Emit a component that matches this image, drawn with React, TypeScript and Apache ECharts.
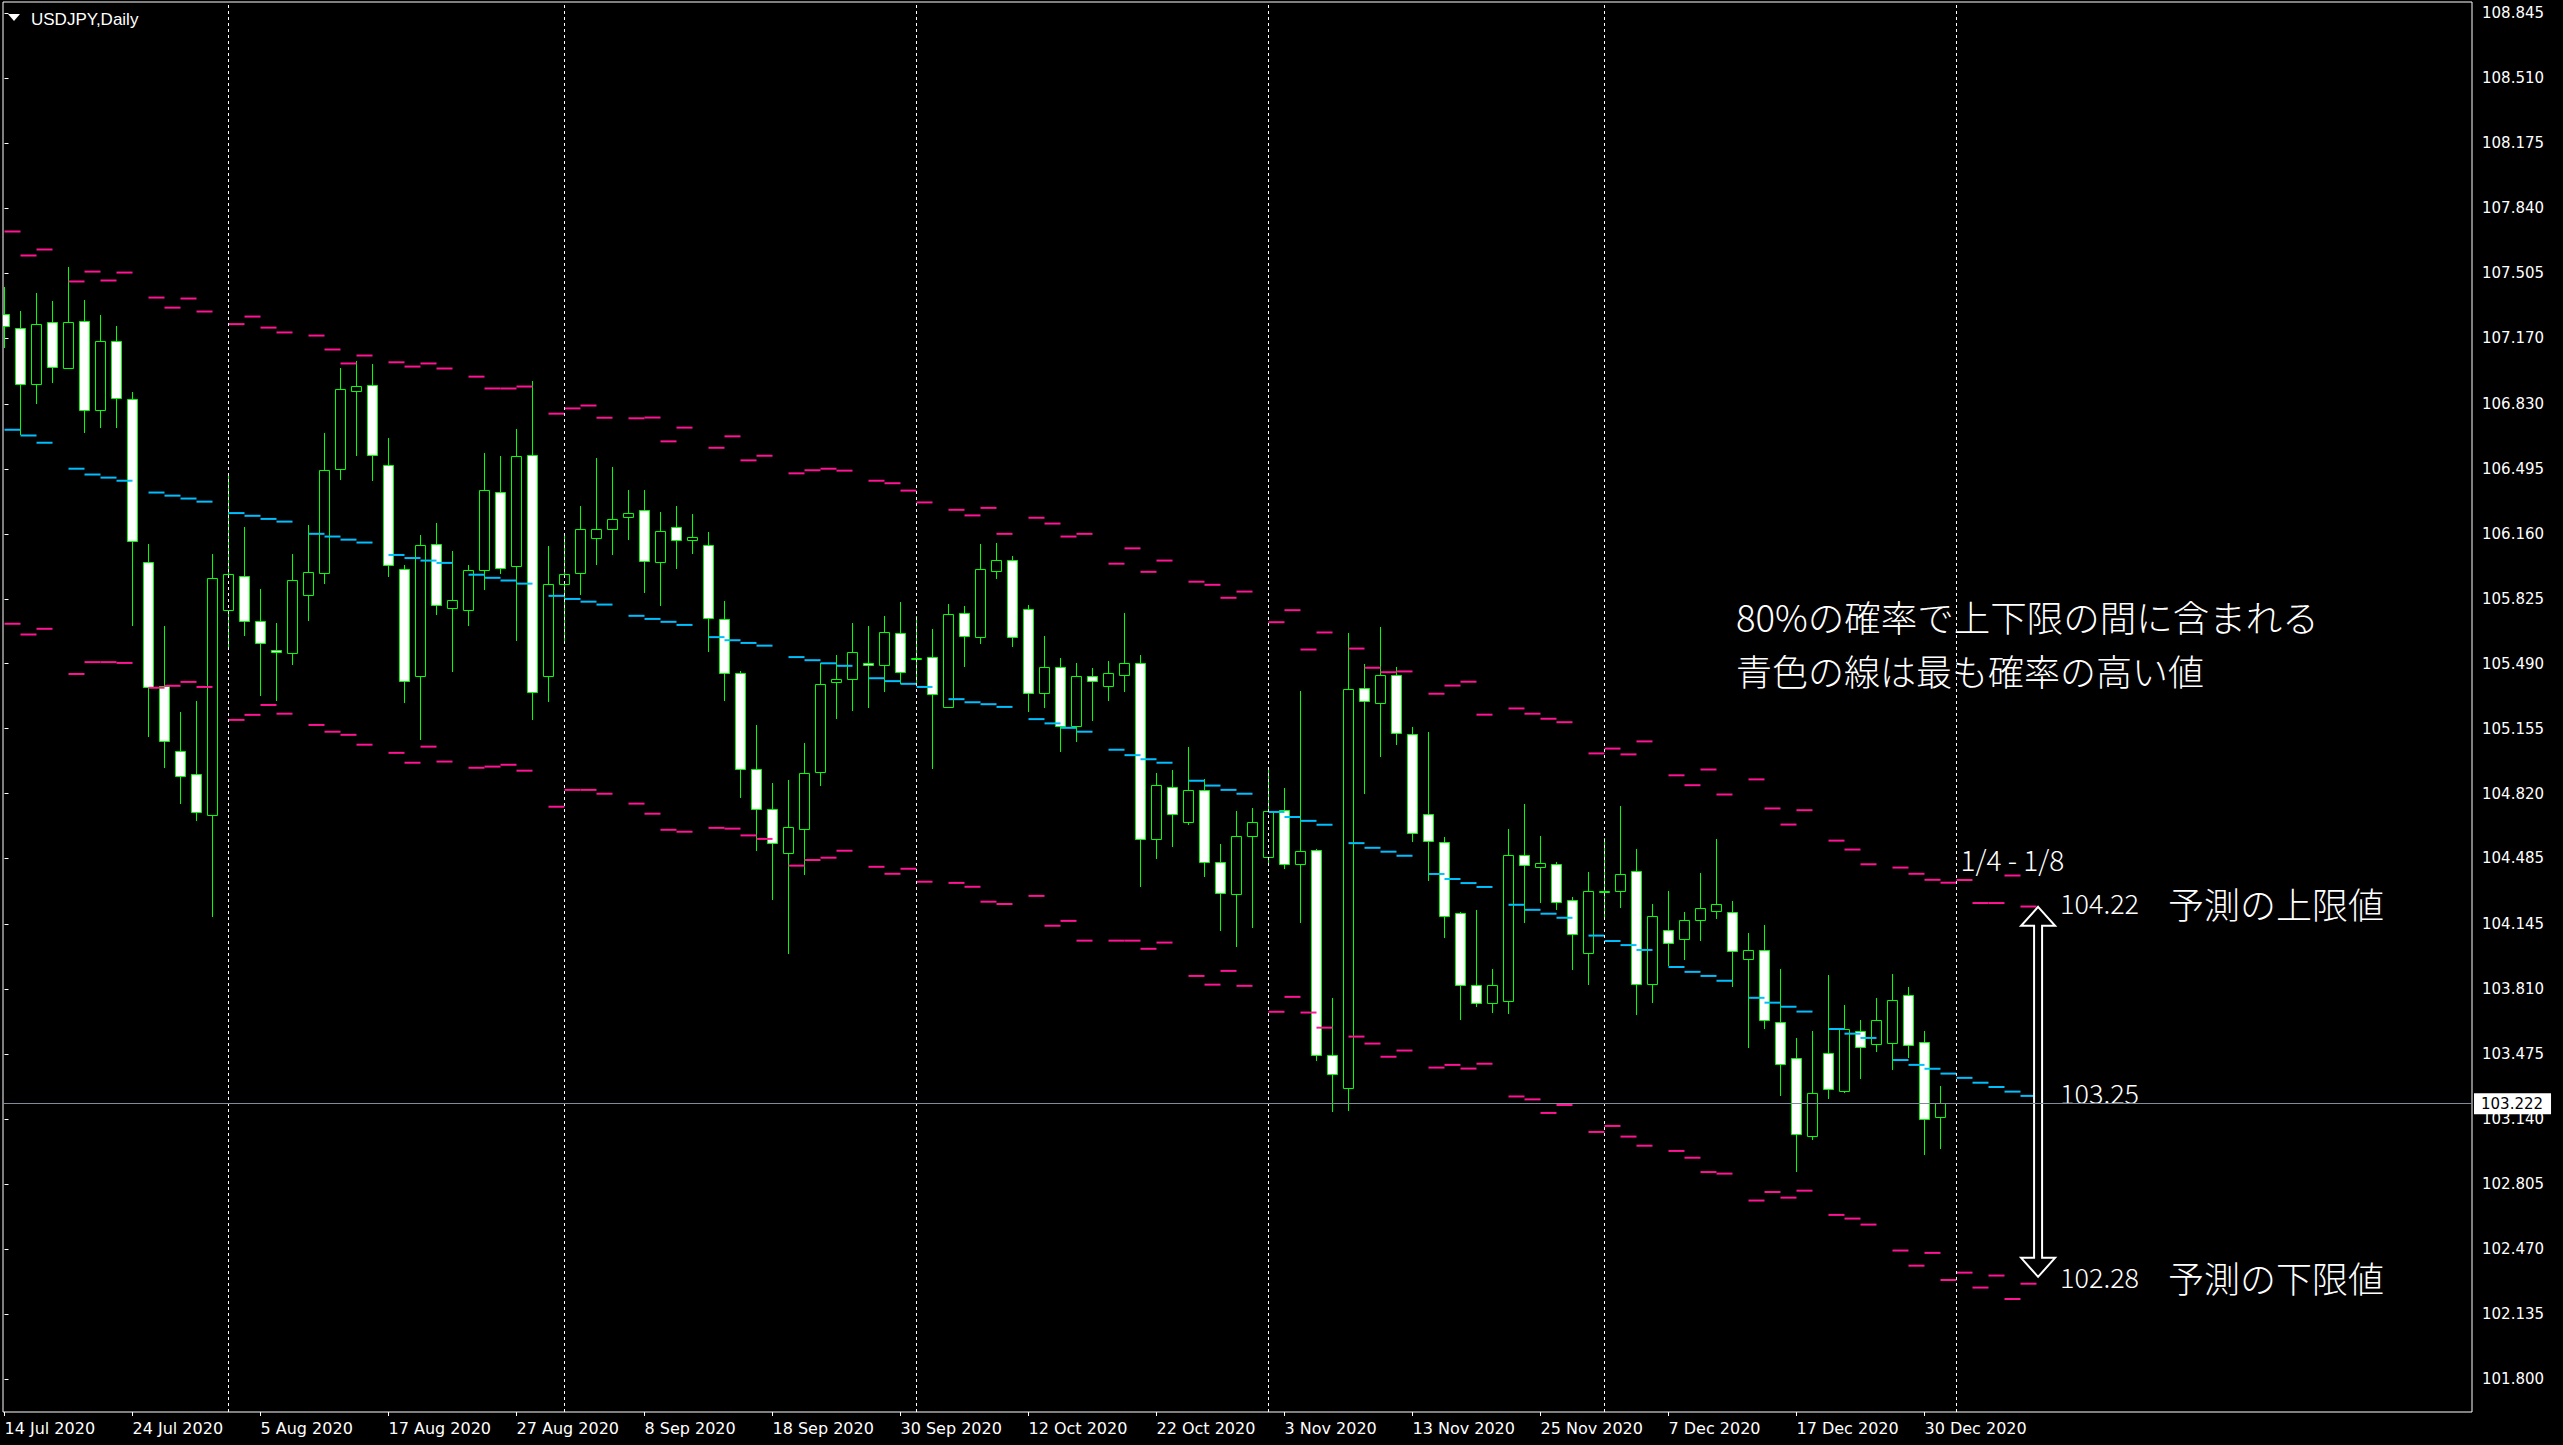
import React, { useEffect, useRef } from "react";
import * as echarts from "echarts";

// ---------- data ----------
// bar index 0 = 14 Jul 2020 ... 121 = 31 Dec 2020 (daily bars)
const OPEN = [
  107.293, 107.221, 106.932, 107.252, 107.014, 107.257, 106.798, 107.154, 106.855, 106.014,
  105.374, 105.038, 104.92, 104.707, 105.769, 105.941, 105.708, 105.56, 105.544, 105.842,
  105.956, 106.497, 106.899, 106.927, 106.513, 105.976, 105.425, 106.11, 105.775, 105.767,
  105.972, 106.375, 105.992, 106.565, 105.429, 105.901, 105.956, 106.14, 106.184, 106.249,
  106.282, 106.014, 106.193, 106.13, 106.101, 105.723, 105.441, 104.945, 104.738, 104.511,
  104.639, 104.93, 105.394, 105.413, 105.492, 105.481, 105.646, 105.52, 105.522, 105.265,
  105.749, 105.627, 105.966, 106.024, 105.771, 105.34, 105.471, 105.167, 105.425, 105.374,
  105.431, 105.496, 104.588, 104.856, 104.671, 104.837, 104.466, 104.3, 104.6, 104.491,
  104.734, 104.456, 104.527, 103.469, 103.3, 105.367, 105.285, 105.43, 105.128, 104.716,
  104.57, 104.206, 103.831, 103.741, 103.75, 104.501, 104.441, 104.455, 104.269, 103.995,
  104.315, 104.315, 104.418, 103.838, 104.117, 104.068, 104.167, 104.213, 104.207, 103.967,
  104.011, 103.642, 103.453, 103.055, 103.48, 103.285, 103.596, 103.527, 103.534, 103.78,
  103.537, 103.15,
];
const HIGH = [
  107.432, 107.31, 107.401, 107.362, 107.537, 107.367, 107.29, 107.233, 106.891, 106.11,
  105.682, 105.242, 105.297, 106.057, 106.476, 106.195, 105.874, 105.7, 106.057, 106.205,
  106.681, 107.016, 107.052, 107.037, 106.655, 105.998, 106.154, 106.217, 106.071, 105.998,
  106.575, 106.561, 106.701, 106.95, 106.097, 106.15, 106.302, 106.551, 106.505, 106.385,
  106.385, 106.272, 106.304, 106.262, 106.168, 105.812, 105.45, 105.172, 104.874, 104.89,
  105.08, 105.496, 105.534, 105.698, 105.684, 105.737, 105.808, 105.735, 105.67, 105.798,
  105.789, 106.109, 106.112, 106.045, 105.793, 105.631, 105.52, 105.494, 105.469, 105.504,
  105.751, 105.536, 104.926, 104.941, 105.06, 104.896, 104.56, 104.728, 104.746, 104.955,
  104.847, 105.35, 104.536, 103.764, 105.648, 105.49, 105.681, 105.473, 105.163, 105.135,
  104.598, 104.21, 104.218, 103.914, 104.635, 104.766, 104.6, 104.467, 104.287, 104.414,
  104.593, 104.755, 104.536, 104.248, 104.317, 104.207, 104.409, 104.587, 104.266, 104.098,
  104.144, 103.914, 103.557, 103.595, 103.886, 103.73, 103.649, 103.764, 103.891, 103.822,
  103.595, 103.311,
];
const LOW = [
  107.118, 106.67, 106.832, 106.937, 107.009, 106.682, 106.708, 106.708, 105.682, 105.113,
  104.951, 104.768, 104.679, 104.185, 105.571, 105.633, 105.321, 105.297, 105.481, 105.708,
  105.903, 106.44, 106.559, 106.434, 105.939, 105.285, 105.097, 105.743, 105.445, 105.686,
  105.872, 105.952, 105.605, 105.202, 105.291, 105.591, 105.844, 106.0, 106.051, 106.128,
  105.856, 105.79, 105.98, 106.057, 105.548, 105.299, 104.797, 104.525, 104.272, 103.99,
  104.402, 104.86, 105.206, 105.244, 105.263, 105.346, 105.386, 105.376, 104.945, 105.26,
  105.471, 105.593, 105.927, 105.577, 105.242, 105.263, 105.036, 105.084, 105.192, 105.299,
  105.346, 104.339, 104.482, 104.546, 104.659, 104.39, 104.112, 104.027, 104.126, 104.46,
  104.432, 104.15, 103.442, 103.179, 103.182, 104.817, 105.008, 105.073, 104.57, 104.368,
  104.075, 103.654, 103.718, 103.69, 103.684, 104.151, 104.253, 104.218, 103.907, 103.833,
  104.179, 104.23, 103.677, 103.741, 103.93, 103.96, 104.059, 104.174, 103.822, 103.506,
  103.603, 103.257, 102.869, 103.033, 103.244, 103.276, 103.347, 103.488, 103.394, 103.453,
  102.955, 102.986,
];
const CLOSE = [
  107.231, 106.932, 107.243, 107.02, 107.252, 106.798, 107.154, 106.86, 106.122, 105.368,
  105.093, 104.912, 104.724, 105.931, 105.951, 105.712, 105.595, 105.55, 105.921, 105.962,
  106.488, 106.908, 106.922, 106.569, 106.0, 105.403, 106.101, 105.795, 105.816, 105.972,
  106.385, 105.982, 106.561, 105.342, 105.899, 105.951, 106.184, 106.184, 106.235, 106.27,
  106.022, 106.174, 106.128, 106.146, 105.725, 105.441, 104.945, 104.738, 104.564, 104.645,
  104.924, 105.384, 105.413, 105.548, 105.483, 105.654, 105.445, 105.52, 105.334, 105.745,
  105.633, 105.976, 106.024, 105.627, 105.34, 105.475, 105.167, 105.425, 105.4, 105.441,
  105.496, 104.584, 104.862, 104.712, 104.837, 104.466, 104.306, 104.6, 104.671, 104.728,
  104.456, 104.521, 103.47, 103.371, 105.358, 105.296, 105.43, 105.132, 104.617, 104.575,
  104.19, 103.831, 103.741, 103.831, 104.501, 104.451, 104.464, 104.26, 104.096, 104.315,
  104.317, 104.407, 103.838, 104.19, 104.047, 104.167, 104.229, 104.248, 104.006, 104.011,
  103.654, 103.423, 103.062, 103.273, 103.294, 103.603, 103.511, 103.649, 103.757, 103.523,
  103.141, 103.222,
];

// forecast bands: one value per bar (0..126), null = end of week (no dash)
const BAND_UPPER = [
  107.72, 107.596, 107.627, null, 107.462, 107.513, 107.467, 107.508, null, 107.379,
  107.327, 107.374, 107.307, null, 107.242, 107.281, 107.224, 107.199, null, 107.183,
  107.111, 107.039, 107.08, null, 107.045, 107.023, 107.039, 107.013, null, 106.971,
  106.91, 106.91, 106.92, null, 106.78, 106.807, 106.822, 106.759, null, 106.756,
  106.76, 106.637, 106.708, null, 106.604, 106.663, 106.539, 106.563, null, 106.472,
  106.488, 106.496, 106.486, null, 106.434, 106.421, 106.383, 106.322, null, 106.284,
  106.255, 106.294, 106.16, null, 106.243, 106.213, 106.146, 106.16, null, 106.006,
  106.085, 105.964, 106.022, null, 105.913, 105.897, 105.83, 105.862, null, 105.704,
  105.766, 105.563, 105.651, null, 105.568, 105.469, 105.446, 105.45, null, 105.335,
  105.377, 105.397, 105.227, null, 105.259, 105.232, 105.206, 105.188, null, 105.027,
  105.052, 105.022, 105.089, null, 104.914, 104.863, 104.944, 104.815, null, 104.893,
  104.743, 104.66, 104.734, null, 104.577, 104.531, 104.455, null, 104.438, 104.406,
  104.375, 104.36, 104.374, 104.255, 104.255, 104.397, 104.237,
];
const BAND_MID = [
  106.697, 106.667, 106.63, null, 106.496, 106.466, 106.45, 106.434, null, 106.373,
  106.357, 106.342, 106.326, null, 106.267, 106.253, 106.237, 106.223, null, 106.16,
  106.146, 106.13, 106.115, null, 106.051, 106.035, 106.022, 106.01, null, 105.949,
  105.933, 105.919, 105.903, null, 105.84, 105.824, 105.81, 105.795, null, 105.737,
  105.721, 105.706, 105.69, null, 105.627, 105.611, 105.597, 105.583, null, 105.524,
  105.508, 105.492, 105.479, null, 105.415, 105.4, 105.386, 105.37, null, 105.307,
  105.291, 105.281, 105.267, null, 105.204, 105.182, 105.159, 105.139, null, 105.046,
  105.018, 104.997, 104.979, null, 104.886, 104.861, 104.839, 104.819, null, 104.725,
  104.699, 104.679, 104.659, null, 104.564, 104.54, 104.52, 104.499, null, 104.405,
  104.379, 104.358, 104.338, null, 104.246, 104.22, 104.2, 104.179, null, 104.087,
  104.059, 104.038, 104.013, null, 103.925, 103.9, 103.879, 103.854, null, 103.766,
  103.741, 103.72, 103.695, null, 103.605, 103.581, 103.559, null, 103.445, 103.42,
  103.4, 103.375, 103.353, 103.328, 103.306, 103.282, 103.26,
];
const BAND_LOWER = [
  105.696, 105.64, 105.67, null, 105.437, 105.498, 105.498, 105.494, null, 105.366,
  105.376, 105.396, 105.37, null, 105.2, 105.226, 105.277, 105.232, null, 105.174,
  105.139, 105.123, 105.072, null, 105.03, 104.979, 105.062, 104.985, null, 104.953,
  104.959, 104.969, 104.938, null, 104.752, 104.839, 104.839, 104.819, null, 104.768,
  104.716, 104.633, 104.623, null, 104.643, 104.639, 104.604, 104.586, null, 104.448,
  104.477, 104.489, 104.525, null, 104.442, 104.406, 104.432, 104.365, null, 104.359,
  104.339, 104.262, 104.25, null, 104.292, 104.138, 104.163, 104.061, null, 104.061,
  104.061, 104.019, 104.051, null, 103.879, 103.834, 103.905, 103.828, null, 103.694,
  103.771, 103.69, 103.612, null, 103.566, 103.53, 103.462, 103.494, null, 103.406,
  103.42, 103.401, 103.426, null, 103.257, 103.242, 103.172, 103.213, null, 103.074,
  103.105, 103.05, 103.003, null, 102.976, 102.941, 102.867, 102.859, null, 102.72,
  102.764, 102.735, 102.771, null, 102.646, 102.627, 102.596, null, 102.462, 102.384,
  102.45, 102.31, 102.348, 102.271, 102.333, 102.212, 102.291,
];

const DATE_LABELS = [
  "14 Jul 2020", "24 Jul 2020", "5 Aug 2020", "17 Aug 2020", "27 Aug 2020", "8 Sep 2020",
  "18 Sep 2020", "30 Sep 2020", "12 Oct 2020", "22 Oct 2020", "3 Nov 2020", "13 Nov 2020",
  "25 Nov 2020", "7 Dec 2020", "17 Dec 2020", "30 Dec 2020",
];
const DATE_LABEL_BARS = [0, 8, 16, 24, 32, 40, 48, 56, 64, 72, 80, 88, 96, 104, 112, 120];
const MONTH_SEPARATOR_BARS = [14, 35, 57, 79, 100, 122];
const PRICE_TICKS = [
  108.845, 108.51, 108.175, 107.84, 107.505, 107.17, 106.83, 106.495, 106.16, 105.825, 105.49,
  105.155, 104.82, 104.485, 104.145, 103.81, 103.475, 103.14, 102.805, 102.47, 102.135, 101.8,
];
const LAST_PRICE = 103.222;
const FORECAST_HIGH = 104.22;
const FORECAST_MID = 103.25;
const FORECAST_LOW = 102.28;
const FORECAST_RANGE_LABEL = "1/4 - 1/8";
const FORECAST_START_BAR = 122;
const ARROW_BAR = 127.1;

// ---------- styles ----------
const X_MIN = -0.094;
const X_MAX = 154.22;
const Y_MIN = 101.629;
const Y_MAX = 108.904;
const GREEN = "#00ff00";
const PINK = "#ff1493";
const SKY = "#00bfff";
const JP_FONT = '"Noto Sans CJK JP", "Noto Sans", sans-serif';

function bandData(arr: (number | null)[]) {
  const out: number[][] = [];
  arr.forEach((v, i) => {
    if (v != null) out.push([i, v]);
  });
  return out;
}

function dashSeries(name: string, arr: (number | null)[], color: string) {
  return {
    name,
    type: "custom",
    clip: true,
    z: 4,
    data: bandData(arr),
    encode: { x: 0, y: 1 },
    renderItem: (params: any, api: any) => {
      const i = api.value(0);
      const v = api.value(1);
      const a = api.coord([i, v]);
      const b = api.coord([i + 1, v]);
      return {
        type: "rect",
        shape: { x: a[0], y: a[1] - 1, width: b[0] - a[0], height: 2 },
        style: { fill: color },
      };
    },
  };
}

function buildOption() {
  const candleData = OPEN.map((o, i) => [i, o, CLOSE[i], LOW[i], HIGH[i]]);
  return {
    animation: false,
    backgroundColor: "#000",
    grid: {
      left: 3,
      top: 2,
      right: 91,
      bottom: 33,
      show: true,
      borderColor: "#ffffff",
      borderWidth: 1,
      backgroundColor: "transparent",
    },
    xAxis: {
      type: "value",
      min: X_MIN,
      max: X_MAX,
      axisLine: { show: false },
      splitLine: { show: false },
      axisTick: {
        show: true,
        customValues: DATE_LABEL_BARS,
        length: 4,
        lineStyle: { color: "#ffffff" },
      },
      axisLabel: {
        customValues: DATE_LABEL_BARS,
        formatter: (v: number) => {
          const k = DATE_LABEL_BARS.indexOf(Math.round(v));
          return k >= 0 ? DATE_LABELS[k] : "";
        },
        color: "#ffffff",
        fontFamily: "DejaVu Sans",
        fontSize: 16,
        align: "left",
        margin: 8,
      },
    },
    yAxis: {
      type: "value",
      position: "right",
      min: Y_MIN,
      max: Y_MAX,
      axisLine: { show: false },
      splitLine: { show: false },
      axisTick: {
        show: true,
        customValues: PRICE_TICKS,
        length: 4,
        lineStyle: { color: "#ffffff" },
      },
      axisLabel: {
        customValues: PRICE_TICKS,
        formatter: (v: number) => v.toFixed(3),
        color: "#ffffff",
        fontFamily: "DejaVu Sans",
        fontSize: 15,
        margin: 10,
      },
    },
    series: [
      {
        name: "USDJPY",
        type: "custom",
        clip: true,
        z: 3,
        data: candleData,
        encode: { x: 0, y: [1, 2, 3, 4] },
        renderItem: (params: any, api: any) => {
          const i = api.value(0);
          const o = api.value(1);
          const c = api.value(2);
          const l = api.value(3);
          const h = api.value(4);
          const po = api.coord([i, o]);
          const pc = api.coord([i, c]);
          const pl = api.coord([i, l]);
          const ph = api.coord([i, h]);
          const cx = Math.floor(po[0]) + 0.5;
          const top = Math.round(Math.min(po[1], pc[1])) + 0.5;
          const bot = Math.round(Math.max(po[1], pc[1])) + 0.5;
          const bull = c >= o;
          return {
            type: "group",
            children: [
              {
                type: "line",
                shape: { x1: cx, y1: Math.round(ph[1]), x2: cx, y2: Math.round(pl[1]) },
                style: { stroke: GREEN, lineWidth: 1 },
              },
              {
                type: "rect",
                shape: { x: cx - 5, y: top, width: 10, height: Math.max(bot - top, 1) },
                style: { fill: bull ? "#000000" : "#ffffff", stroke: GREEN, lineWidth: 1 },
              },
            ],
          };
        },
        markLine: {
          silent: true,
          symbol: "none",
          animation: false,
          z: 20,
          label: { show: false },
          data: [
            ...MONTH_SEPARATOR_BARS.map((b) => ({
              xAxis: b,
              lineStyle: { color: "#ffffff", type: [3, 3], width: 1 },
              label: { show: false },
            })),
            {
              yAxis: LAST_PRICE,
              lineStyle: { color: "#7f8c9c", type: "solid", width: 1 },
              label: {
                show: true,
                position: "end",
                distance: 2,
                formatter: LAST_PRICE.toFixed(3),
                backgroundColor: "#ffffff",
                color: "#000000",
                fontFamily: "DejaVu Sans",
                fontSize: 15,
                padding: [3, 8, 3, 7],
              },
            },
          ],
        },
      },
      dashSeries("upper", BAND_UPPER, PINK),
      dashSeries("lower", BAND_LOWER, PINK),
      dashSeries("mid", BAND_MID, SKY),
    ],
  };
}

function txt(x: number, y: number, text: string, size: number, font: string, align = "left") {
  return {
    type: "text",
    x,
    y,
    z: 10,
    style: {
      text,
      fill: "#ffffff",
      fontSize: size,
      fontFamily: font,
      fontWeight: 300,
      textAlign: align,
      textVerticalAlign: "middle",
      align,
      verticalAlign: "middle",
    },
  };
}

function buildGraphic(chart: any) {
  const P = (x: number, y: number) => chart.convertToPixel({ gridIndex: 0 }, [x, y]);
  const [ax, yU] = P(ARROW_BAR, FORECAST_HIGH);
  const [, yM] = P(ARROW_BAR, FORECAST_MID);
  const [, yL] = P(ARROW_BAR, FORECAST_LOW);
  const [fx] = P(FORECAST_START_BAR, FORECAST_HIGH);
  const topApex = yU - 3;
  const botApex = yL - 9;
  const hh = 19;
  const hw = 17;
  const sw = 4;
  const arrowPts = [
    [ax, topApex],
    [ax + hw, topApex + hh],
    [ax + sw, topApex + hh],
    [ax + sw, botApex - hh],
    [ax + hw, botApex - hh],
    [ax, botApex],
    [ax - hw, botApex - hh],
    [ax - sw, botApex - hh],
    [ax - sw, topApex + hh],
    [ax - hw, topApex + hh],
  ];
  return [
    {
      type: "polygon",
      z: 10,
      shape: { points: [[8, 14], [20, 14], [14, 21]] },
      style: { fill: "#ffffff" },
    },
    txt(31, 19, "USDJPY,Daily", 17, '"Liberation Sans", Arial, sans-serif'),
    txt(1736, 616, "80%の確率で上下限の間に含まれる", 36.5, JP_FONT),
    txt(1736, 670, "青色の線は最も確率の高い値", 36, JP_FONT),
    txt(fx + 4, yU - 51, FORECAST_RANGE_LABEL, 28, JP_FONT),
    {
      type: "polygon",
      z: 9,
      shape: { points: arrowPts },
      style: { fill: "#000000", stroke: "#ffffff", lineWidth: 2 },
    },
    txt(ax + 22, yU - 7, FORECAST_HIGH.toFixed(2), 27, JP_FONT),
    txt(ax + 22, yM - 5, FORECAST_MID.toFixed(2), 27, JP_FONT),
    txt(ax + 22, yL - 9, FORECAST_LOW.toFixed(2), 27, JP_FONT),
    txt(ax + 130, yU - 7, "予測の上限値", 36, JP_FONT),
    txt(ax + 130, yL - 9, "予測の下限値", 36, JP_FONT),
  ];
}

export default function App() {
  const ref = useRef<HTMLDivElement>(null);
  useEffect(() => {
    if (!ref.current) return;
    const chart = echarts.init(ref.current, null, { renderer: "svg" });
    chart.setOption(buildOption() as any);
    chart.setOption({ graphic: buildGraphic(chart) } as any);
    return () => chart.dispose();
  }, []);
  return (
    <div
      ref={ref}
      style={{ position: "fixed", left: 0, top: 0, width: 2563, height: 1445, background: "#000" }}
    />
  );
}
